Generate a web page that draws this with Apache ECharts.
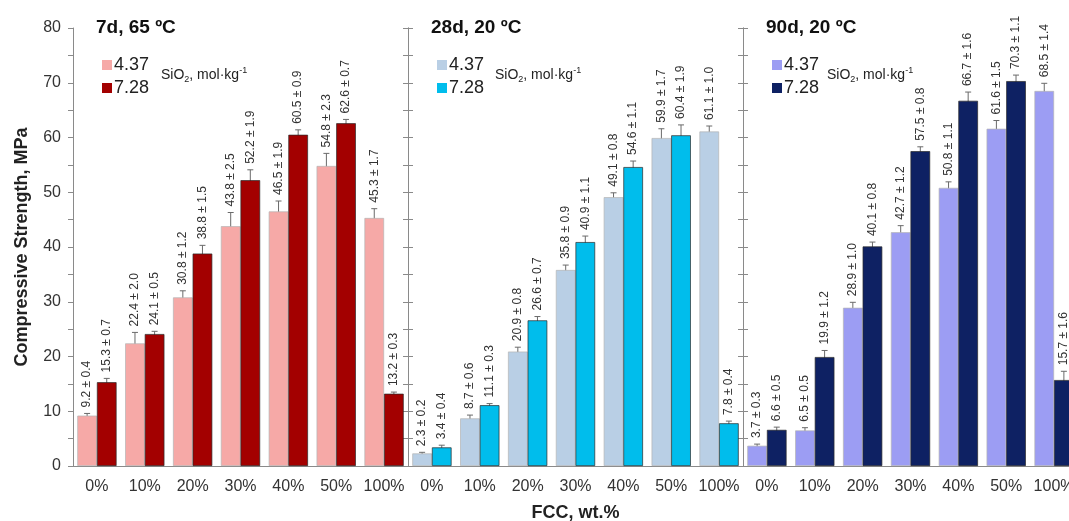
<!DOCTYPE html>
<html>
<head>
<meta charset="utf-8">
<script src="https://cdn.jsdelivr.net/npm/echarts@6/dist/echarts.min.js"></script>
<style>
  html, body { margin: 0; padding: 0; background: #fff; }
  #chart { width: 1069px; height: 521px; }
</style>
</head>
<body>
<div id="chart"></div>
<script>
// categories (FCC content)
var categories = ['0%', '10%', '20%', '30%', '40%', '50%', '100%'];

// 7d, 65 ºC
var d7Low = [9.2, 22.4, 30.8, 43.8, 46.5, 54.8, 45.3];
var d7LowErr = [0.4, 2.0, 1.2, 2.5, 1.9, 2.3, 1.7];
var d7High = [15.3, 24.1, 38.8, 52.2, 60.5, 62.6, 13.2];
var d7HighErr = [0.7, 0.5, 1.5, 1.9, 0.9, 0.7, 0.3];

// 28d, 20 ºC
var d28Low = [2.3, 8.7, 20.9, 35.8, 49.1, 59.9, 61.1];
var d28LowErr = [0.2, 0.6, 0.8, 0.9, 0.8, 1.7, 1.0];
var d28High = [3.4, 11.1, 26.6, 40.9, 54.6, 60.4, 7.8];
var d28HighErr = [0.4, 0.3, 0.7, 1.1, 1.1, 1.9, 0.4];

// 90d, 20 ºC
var d90Low = [3.7, 6.5, 28.9, 42.7, 50.8, 61.6, 68.5];
var d90LowErr = [0.3, 0.5, 1.0, 1.2, 1.1, 1.5, 1.4];
var d90High = [6.6, 19.9, 40.1, 57.5, 66.7, 70.3, 15.7];
var d90HighErr = [0.5, 1.2, 0.8, 0.8, 1.6, 1.1, 1.6];

var yTicks = [0, 10, 20, 30, 40, 50, 60, 70, 80];
var panelTitles = ['7d, 65 ºC', '28d, 20 ºC', '90d, 20 ºC'];
var legendNames = ['4.37', '7.28'];

var FONT = '"Liberation Sans", Arial, sans-serif';
var GAP = 0.18;
var AXIS_COLOR = '#8a8a8a';

var panels = [
    {low: d7Low, lowErr: d7LowErr, high: d7High, highErr: d7HighErr, colors: ['#f6a9a7', '#a30000']},
    {low: d28Low, lowErr: d28LowErr, high: d28High, highErr: d28HighErr, colors: ['#b9cfe5', '#00bdec']},
    {low: d90Low, lowErr: d90LowErr, high: d90High, highErr: d90HighErr, colors: ['#9c9df3', '#0e2163']}
];

var gridLefts = [73, 408, 743];
var legendLefts = [97, 432, 767];
var sioLefts = [156, 490, 822];

var chart = echarts.init(document.getElementById('chart'));

// error bar + rotated value label, placed on the light (-1) or dark (+1) bar
function errorRenderer(side, vals, errs) {
    return function (params, api) {
        var i = api.value(0);
        var v = api.value(1);
        var e = api.value(2);
        var band = api.size([1, 0])[0];
        var barW = band * (1 - GAP) / 2;
        var x = api.coord([i, v])[0] + side * barW / 2;
        var hi = api.coord([i, v + e])[1];
        var lo = api.coord([i, v - e])[1];
        var cap = 3;
        var st = {stroke: '#6a6a6a', lineWidth: 1};
        return {
            type: 'group',
            children: [
                {type: 'line', shape: {x1: x, y1: hi, x2: x, y2: lo}, style: st},
                {type: 'line', shape: {x1: x - cap, y1: hi, x2: x + cap, y2: hi}, style: st},
                {type: 'line', shape: {x1: x - cap, y1: lo, x2: x + cap, y2: lo}, style: st},
                {
                    type: 'text',
                    x: x,
                    y: hi - 6,
                    rotation: Math.PI / 2,
                    style: {
                        text: vals[i].toFixed(1) + ' ± ' + errs[i].toFixed(1),
                        align: 'left',
                        verticalAlign: 'middle',
                        fontSize: 12,
                        fontFamily: FONT,
                        fill: '#333'
                    }
                }
            ]
        };
    };
}

var grids = [], xAxes = [], yAxes = [], series = [], legends = [], titles = [];

panels.forEach(function (p, k) {
    grids.push({left: gridLefts[k], top: 28, width: 335, height: 438, outerBoundsMode: 'none', containLabel: false});

    xAxes.push({
        type: 'category',
        gridIndex: k,
        data: categories,
        axisLine: {lineStyle: {color: AXIS_COLOR}},
        axisTick: {length: 5, lineStyle: {color: AXIS_COLOR}},
        axisLabel: {interval: 0, fontSize: 16, color: '#333', fontFamily: FONT, margin: 13},
        name: k === 1 ? 'FCC, wt.%' : '',
        nameLocation: 'middle',
        nameGap: 38,
        nameTextStyle: {fontSize: 18, fontWeight: 'bold', color: '#222', fontFamily: FONT}
    });

    var yBase = {
        type: 'value',
        gridIndex: k,
        min: 0,
        max: 80,
        interval: 10,
        splitLine: {show: false},
        axisLine: {show: true, lineStyle: {color: AXIS_COLOR}},
        axisTick: {show: true, length: 5, lineStyle: {color: AXIS_COLOR}},
        minorTick: {show: true, splitNumber: 2, length: 5, lineStyle: {color: AXIS_COLOR}}
    };

    yAxes.push(Object.assign({}, yBase, {
        position: 'left',
        axisLabel: {
            show: k === 0,
            fontSize: 16,
            color: '#333',
            fontFamily: FONT,
            margin: 12,
            formatter: function (v) { return yTicks.indexOf(v) >= 0 ? String(v) : ''; }
        },
        name: k === 0 ? 'Compressive Strength, MPa' : '',
        nameLocation: 'middle',
        nameGap: 42,
        nameTextStyle: {fontSize: 18, fontWeight: 'bold', color: '#222', fontFamily: FONT}
    }));
    var yIdx = yAxes.length - 1;

    if (k < 2) {
        yAxes.push(Object.assign({}, yBase, {position: 'right', axisLabel: {show: false}}));
    }

    var names = ['p' + k + 'a', 'p' + k + 'b'];
    var lists = [[p.low, p.lowErr], [p.high, p.highErr]];

    lists.forEach(function (pair, j) {
        series.push({
            name: names[j],
            type: 'bar',
            xAxisIndex: k,
            yAxisIndex: yIdx,
            data: pair[0],
            barGap: '0%',
            barCategoryGap: (GAP * 100) + '%',
            itemStyle: {
                color: p.colors[j],
                borderColor: j === 0 ? '#b5b5b5' : '#2a2a2a',
                borderWidth: 0.7
            },
            silent: true
        });
    });

    lists.forEach(function (pair, j) {
        series.push({
            type: 'custom',
            xAxisIndex: k,
            yAxisIndex: yIdx,
            clip: false,
            silent: true,
            data: pair[0].map(function (v, i) { return [i, v, pair[1][i]]; }),
            renderItem: errorRenderer(j === 0 ? -1 : 1, pair[0], pair[1])
        });
    });

    legends.push({
        orient: 'vertical',
        left: legendLefts[k],
        top: 51,
        itemGap: 5,
        itemWidth: 10,
        itemHeight: 10,
        icon: 'rect',
        selectedMode: false,
        itemStyle: {borderWidth: 0},
        data: names,
        formatter: function (n) { return legendNames[names.indexOf(n)]; },
        textStyle: {fontSize: 18, color: '#222', fontFamily: FONT, padding: [0, 0, 0, -3]}
    });

    titles.push({
        text: panelTitles[k],
        left: legendLefts[k] - 6,
        top: 13,
        textStyle: {fontSize: 19, fontWeight: 'bold', color: '#111', fontFamily: FONT}
    });
    titles.push({
        text: '{a|SiO}{s|2}{a|, mol·kg}{p|-1}',
        left: sioLefts[k],
        top: 61,
        textStyle: {
            fontWeight: 'normal',
            rich: {
                a: {fontSize: 14, lineHeight: 18, fontWeight: 'normal', color: '#222', fontFamily: FONT},
                s: {fontSize: 9, lineHeight: 10, verticalAlign: 'bottom', fontWeight: 'normal', color: '#222', fontFamily: FONT},
                p: {fontSize: 9, lineHeight: 10, verticalAlign: 'top', fontWeight: 'normal', color: '#222', fontFamily: FONT}
            }
        }
    });
});

var option = {
    backgroundColor: '#fff',
    animation: false,
    title: titles,
    legend: legends,
    grid: grids,
    xAxis: xAxes,
    yAxis: yAxes,
    series: series
};

chart.setOption(option);
</script>
</body>
</html>
